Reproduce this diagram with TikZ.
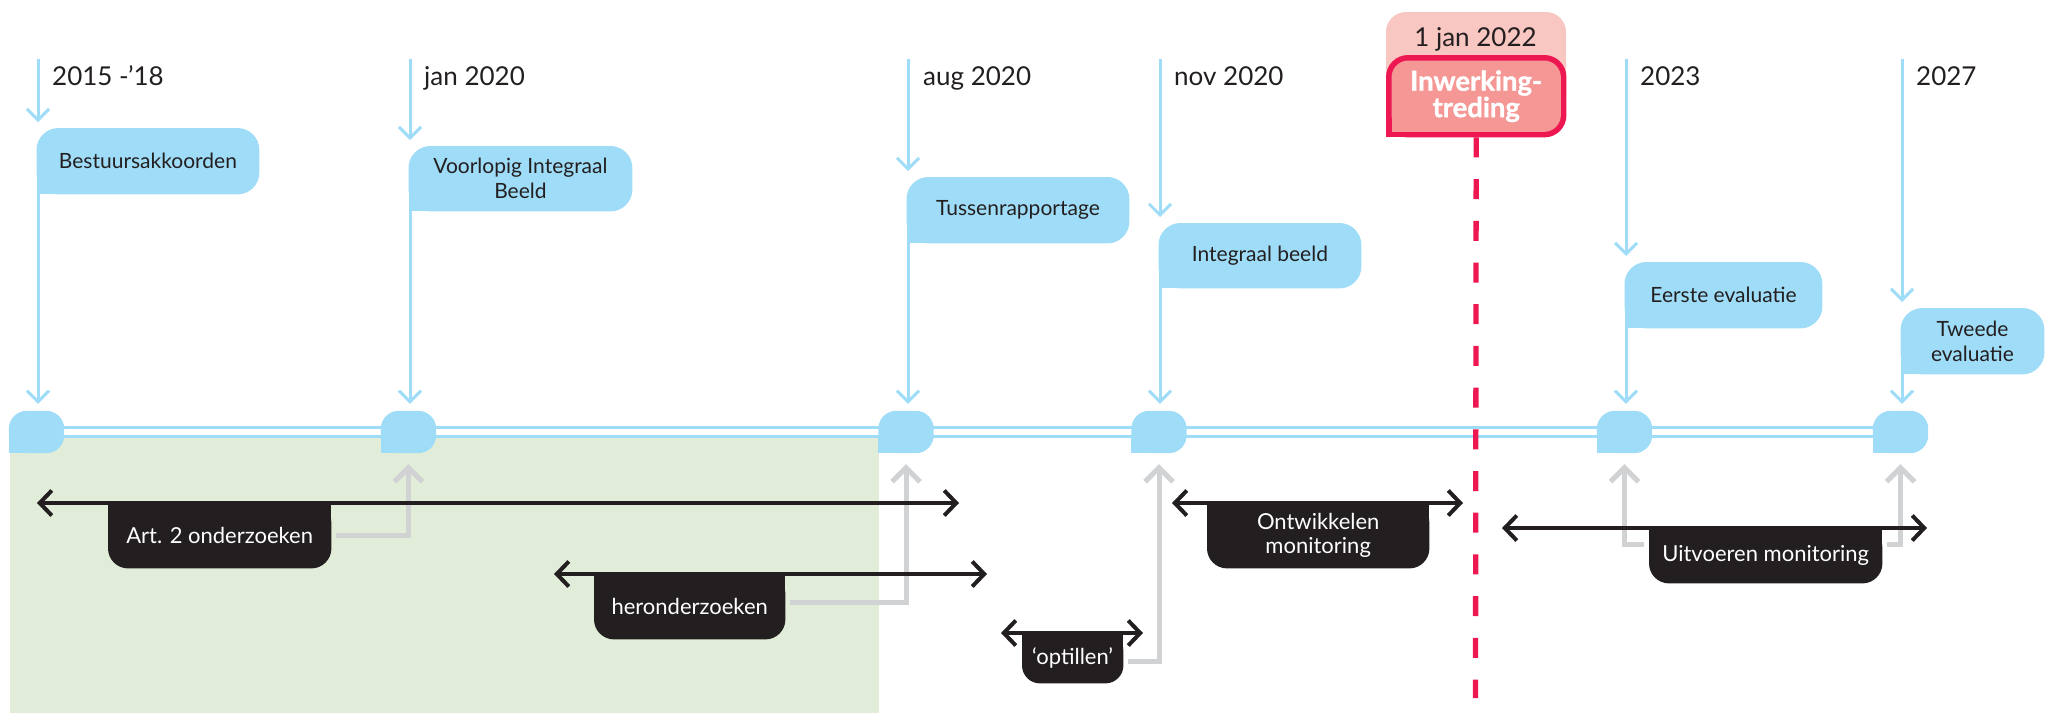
\documentclass[tikz,border=0pt]{standalone}
\usepackage{fontspec}
\setmainfont{Lato}
\newfontfamily\heavyfont[BoldFeatures={FakeBold=1.2}]{Lato}
\usetikzlibrary{arrows.meta}
\definecolor{tlblue}{RGB}{158,220,247}
\definecolor{tlgreen}{RGB}{225,237,216}
\definecolor{tlgray}{RGB}{209,210,212}
\definecolor{tlblack}{RGB}{35,31,32}
\definecolor{tlred}{RGB}{237,24,82}
\definecolor{tlsalmon}{RGB}{244,151,149}
\definecolor{tlpink}{RGB}{249,199,194}
\pgfdeclarelayer{bgzero}
\pgfdeclarelayer{bgone}
\pgfsetlayers{bgzero,bgone,main}
% TL, TR, BR rounded; BL sharp
\newcommand{\flagfill}[3]{%
  \fill[#2, rounded corners=#3pt] (#1.south west) rectangle (#1.north east);
  \fill[#2] (#1.south west) rectangle ++(#3,-#3);
}
% BL, BR rounded; top sharp
\newcommand{\tubfill}[3]{%
  \fill[#2, rounded corners=#3pt] (#1.south west) rectangle (#1.north east);
  \fill[#2] (#1.north west) rectangle ([yshift=-#3pt]#1.north east);
}
\begin{document}
\begin{tikzpicture}[x=1pt,y=-1pt,
  datelbl/.style={anchor=base west, inner sep=0, font=\fontsize{26}{30}\selectfont, text=tlblack},
  evbox/.style={anchor=north west, inner sep=0, align=center, font=\fontsize{21}{25}\selectfont, text=tlblack},
  blkbox/.style={anchor=north west, inner sep=0, align=center, font=\fontsize{22}{24}\selectfont, text=white},
  marker/.style={minimum width=55, minimum height=42, inner sep=0},
  bluarr/.style={draw=tlblue, line width=3pt, -{Straight Barb[length=11pt,width=22pt]}},
  blkarr/.style={draw=tlblack, line width=4pt, {Straight Barb[length=12pt,width=25pt]}-{Straight Barb[length=12pt,width=25pt]}},
  grayarr/.style={draw=tlgray, line width=5pt, -{Straight Barb[length=14pt,width=28pt]}, shorten <=5pt, shorten >=11pt},
  tlline/.style={draw=tlblue, line width=3pt},
  reddash/.style={draw=tlred, line width=5.3pt, dash pattern=on 20pt off 21.7pt}
]
\useasboundingbox (0,0) rectangle (2054,713);

% event markers on the timeline
\node[marker] (m1) at (36.5,432) {};
\node[marker] (m2) at (408.5,432) {};
\node[marker] (m3) at (906,432) {};
\node[marker] (m4) at (1159,432) {};
\node[marker] (m5) at (1624.5,432) {};
\node[marker] (m6) at (1900.5,432) {};

% stem tops
\coordinate (t1) at (38,59);
\coordinate (t2) at (410,59);
\coordinate (t3) at (908,59);
\coordinate (t4) at (1160,59);
\coordinate (t5) at (1626,59);
\coordinate (t6) at (1902,59);

% date labels
\node[datelbl] (d1) at (52,85) {2015 -’18};
\node[datelbl] (d2) at (424,85) {jan 2020};
\node[datelbl] (d3) at (923,85) {aug 2020};
\node[datelbl] (d4) at (1174,85) {nov 2020};
\node[datelbl] (d5) at (1640,85) {2023};
\node[datelbl] (d6) at (1916,85) {2027};
\node[anchor=base, inner sep=0, font=\fontsize{26}{30}\selectfont, text=tlblack] (d7) at (1475.5,46) {1 jan 2022};

% event boxes
\node[evbox, minimum width=222.5, minimum height=66] (b1) at (36.5,128) {Bestuursakkoorden};
\node[evbox, minimum width=223.5, minimum height=65] (b2) at (408.5,146) {Voorlopig Integraal\\Beeld};
\node[evbox, minimum width=222.5, minimum height=66] (b3) at (906.5,177) {Tussenrapportage};
\node[evbox, minimum width=202.5, minimum height=65] (b4) at (1158.5,223) {Integraal beeld};
\node[evbox, minimum width=197.5, minimum height=66] (b5) at (1624.5,262) {Eerste evaluatie};
\node[evbox, minimum width=143.5, minimum height=66] (b6) at (1900.5,308) {Tweede\\evaluatie};

% activity boxes
\node[blkbox, minimum width=223, minimum height=65] (a2) at (108,503) {Art. 2 onderzoeken};
\node[blkbox, minimum width=191, minimum height=65] (he) at (594,574) {heronderzoeken};
\node[blkbox, minimum width=101, minimum height=50] (op) at (1022,633) {‘optillen’};
\node[blkbox, minimum width=222, minimum height=65] (ow) at (1207,503) {Ontwikkelen\\monitoring};
\node[blkbox, minimum width=233, minimum height=55] (ub) at (1649,528) {Uitvoeren monitoring};

% inwerkingtreding
\node[anchor=north west, inner sep=0, minimum width=180, minimum height=82, align=center,
  font=\fontsize{27.5}{25}\heavyfont\bfseries, text=white] (iw) at (1386,55) {Inwerking-\\treding};

% arrow end points
\coordinate (a2L) at (37,503);   \coordinate (a2R) at (959,503);
\coordinate (heL) at (554,574);  \coordinate (heR) at (987,574);
\coordinate (opL) at (1001,633); \coordinate (opR) at (1143,633);
\coordinate (owL) at (1172,503); \coordinate (owR) at (1463,503);
\coordinate (ubL) at (1502,528); \coordinate (ubR) at (1927,528);
\coordinate (rdend) at (1475.5,698);

% backgrounds
\begin{pgfonlayer}{bgzero}
  \fill[tlgreen] (9.5,436) rectangle (878.5,713);
  \draw[tlline] ([yshift=4.6pt]m1.center) -- ([yshift=4.6pt]m6.center);
  \draw[tlline] ([yshift=-4.6pt]m1.center) -- ([yshift=-4.6pt]m6.center);
\end{pgfonlayer}
\begin{pgfonlayer}{bgone}
  \foreach \m in {m1,m2,m3,m4,m5,m6} {\flagfill{\m}{tlblue}{18}}
  \foreach \b in {b1,b2,b3,b4,b5,b6} {\flagfill{\b}{tlblue}{22}}
  \foreach \b in {a2,he,ow,ub} {\tubfill{\b}{tlblack}{20}}
  \tubfill{op}{tlblack}{18}
  \fill[tlpink, rounded corners=20pt] (1386,12) rectangle (1566,120);
  \flagfill{iw}{tlred}{22}
  \fill[tlsalmon, rounded corners=17pt] ([shift={(5.5,-5.5)}]iw.south west) rectangle ([shift={(-5.5,5.5)}]iw.north east);
  \fill[tlsalmon] ([shift={(5.5,-5.5)}]iw.south west) rectangle ++(17,-17);
\end{pgfonlayer}

% blue stems
\foreach \i in {1,...,6} {
  \draw[bluarr, shorten >=6pt] (t\i) -- (t\i |- b\i.north);
  \draw[bluarr, shorten >=7pt] (t\i |- b\i.south) -- (t\i |- m\i.north);
}

% red dashed line
\draw[reddash] (iw.south) -- (rdend);

% grey feedback arrows
\draw[grayarr] (a2.east) -| (m2.south);
\draw[grayarr] ([yshift=4pt]he.east) -| (m3.south);
\draw[grayarr] ([yshift=-3pt]op.east) -| (m4.south);
\draw[grayarr] ([yshift=11pt]ub.west) -| (m5.south);
\draw[grayarr] ([yshift=11pt]ub.east) -| (m6.south);

% black period arrows
\draw[blkarr] (a2L) -- (a2R);
\draw[blkarr] (heL) -- (heR);
\draw[blkarr] (opL) -- (opR);
\draw[blkarr] (owL) -- (owR);
\draw[blkarr] (ubL) -- (ubR);
\end{tikzpicture}
\end{document}
